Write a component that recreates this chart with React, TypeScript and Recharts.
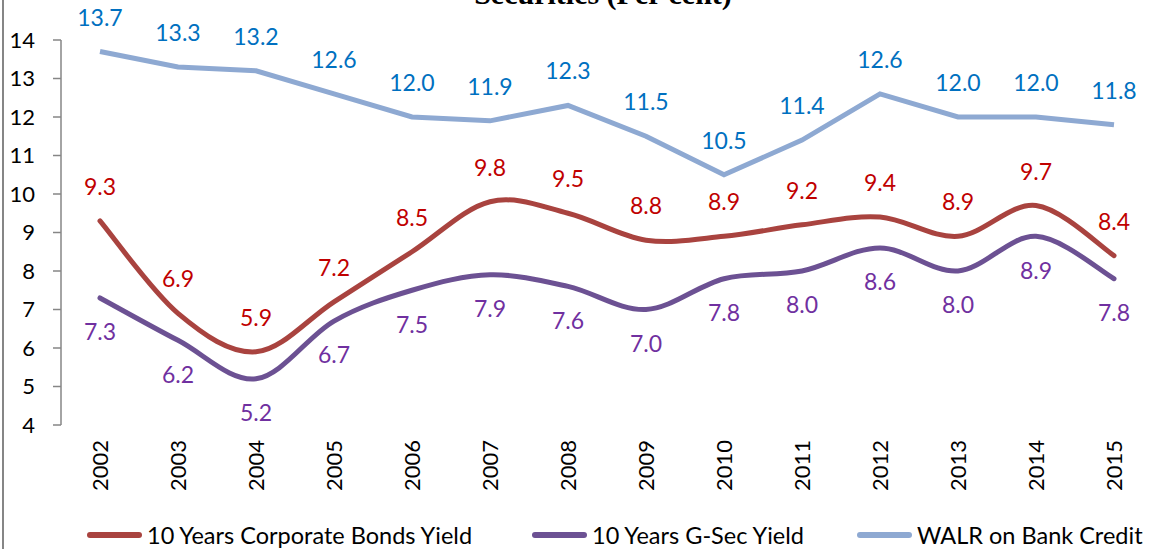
import { LineChart, Line, XAxis, YAxis, Legend, LabelList } from "recharts";

const years = ["2002", "2003", "2004", "2005", "2006", "2007", "2008", "2009", "2010", "2011", "2012", "2013", "2014", "2015"];
const corporateBondsYield = [9.3, 6.9, 5.9, 7.2, 8.5, 9.8, 9.5, 8.8, 8.9, 9.2, 9.4, 8.9, 9.7, 8.4];
const gSecYield = [7.3, 6.2, 5.2, 6.7, 7.5, 7.9, 7.6, 7.0, 7.8, 8.0, 8.6, 8.0, 8.9, 7.8];
const walrBankCredit = [13.7, 13.3, 13.2, 12.6, 12.0, 11.9, 12.3, 11.5, 10.5, 11.4, 12.6, 12.0, 12.0, 11.8];
const yTicks = [4, 5, 6, 7, 8, 9, 10, 11, 12, 13, 14];
const boundaryTicks = [0, 1, 2, 3, 4, 5, 6, 7, 8, 9, 10, 11, 12, 13, 14];

const data = years.map((year, i) => ({
	year,
	corp: corporateBondsYield[i],
	gsec: gSecYield[i],
	walr: walrBankCredit[i],
}));

const FONT = "Lato, 'Open Sans', sans-serif";
const AXIS = "#868686";

// Excel-like smoothed line (Catmull-Rom converted to cubic beziers)
function excelSmooth(context: any) {
	let pts: number[][] = [];
	return {
		areaStart() {},
		areaEnd() {},
		lineStart() {
			pts = [];
		},
		point(x: number, y: number) {
			pts.push([+x, +y]);
		},
		lineEnd() {
			if (!pts.length) return;
			context.moveTo(pts[0][0], pts[0][1]);
			for (let i = 0; i < pts.length - 1; i++) {
				const p0 = pts[i - 1] || pts[i];
				const p1 = pts[i];
				const p2 = pts[i + 1];
				const p3 = pts[i + 2] || pts[i + 1];
				context.bezierCurveTo(
					p1[0] + (p2[0] - p0[0]) / 6,
					p1[1] + (p2[1] - p0[1]) / 6,
					p2[0] - (p3[0] - p1[0]) / 6,
					p2[1] - (p3[1] - p1[1]) / 6,
					p2[0],
					p2[1],
				);
			}
		},
	};
}

const YearTick = ({ x, y, payload }: any) => (
	<g transform={`translate(${x},${y})`}>
		<text
			transform="rotate(-90)"
			textAnchor="end"
			dy="0.36em"
			fontSize={22}
			fontFamily={FONT}
			fill="#000"
		>
			{payload.value}
		</text>
	</g>
);

const legendStarts = [87, 532, 857];

const renderLegend = ({ payload }: any) => (
	<div style={{ position: "relative", height: 22, fontFamily: FONT, fontSize: 23.5, lineHeight: "22px", color: "#000" }}>
		{(payload || []).map((entry: any, i: number) => (
			<div
				key={entry.value}
				style={{
					position: "absolute",
					left: legendStarts[i],
					top: 0,
					height: 22,
					display: "flex",
					alignItems: "center",
					whiteSpace: "nowrap",
				}}
			>
				<span
					style={{
						display: "inline-block",
						width: 55,
						height: 6,
						borderRadius: 3,
						background: entry.color,
						marginRight: 5,
					}}
				/>
				<span>{entry.value}</span>
			</div>
		))}
	</div>
);

const fmt = (v: any) => Number(v).toFixed(1);

export default function App() {
	return (
		<div style={{ position: "absolute", left: 0, top: 0, width: 1157, height: 549, overflow: "hidden", background: "#fff" }}>
			<div
				style={{
					position: "absolute",
					left: 2,
					top: 0,
					width: 0,
					height: 549,
					borderLeft: `2px solid ${AXIS}`,
				}}
			/>
			<div
				style={{
					position: "absolute",
					left: 0,
					width: 1206,
					top: -21,
					textAlign: "center",
					fontFamily: "'Liberation Serif', serif",
					fontWeight: "bold",
					fontSize: 30,
					lineHeight: "30px",
				}}
			>
				Securities (Per cent)
			</div>
			<LineChart
				width={1157}
				height={549}
				data={data}
				margin={{ top: 40, right: 4, left: 0, bottom: 3 }}
			>
				<XAxis
					xAxisId="bounds"
					type="number"
					domain={[0, 14]}
					ticks={boundaryTicks}
					allowDataOverflow
					height={0}
					tickFormatter={() => ""}
					tickSize={8}
					stroke={AXIS}
					strokeWidth={1.5}
				/>
				<XAxis
					dataKey="year"
					height={99}
					padding={{ left: 39, right: 39 }}
					axisLine={false}
					tickLine={false}
					tickSize={0}
					tickMargin={15}
					interval={0}
					tick={<YearTick />}
				/>
				<YAxis
					width={61}
					domain={[4, 14]}
					ticks={yTicks}
					interval={0}
					stroke={AXIS}
					strokeWidth={1.5}
					tickSize={8}
					tickMargin={18}
					tick={{ fill: "#000", fontSize: 22, fontFamily: FONT }}
				/>
				<Legend verticalAlign="bottom" content={renderLegend} />
				<Line
					dataKey="corp"
					name="10 Years Corporate Bonds Yield"
					type={excelSmooth as any}
					stroke="#A9433F"
					strokeWidth={5}
					strokeLinecap="round"
					dot={false}
					activeDot={false}
					isAnimationActive={false}
				>
					<LabelList
						dataKey="corp"
						position="top"
						offset={26}
						formatter={fmt}
						fill="#C00000"
						fontSize={23}
						fontFamily={FONT}
					/>
				</Line>
				<Line
					dataKey="gsec"
					name="10 Years G-Sec Yield"
					type={excelSmooth as any}
					stroke="#6C5193"
					strokeWidth={5}
					strokeLinecap="round"
					dot={false}
					activeDot={false}
					isAnimationActive={false}
				>
					<LabelList
						dataKey="gsec"
						position="bottom"
						offset={26}
						formatter={fmt}
						fill="#7030A0"
						fontSize={23}
						fontFamily={FONT}
					/>
				</Line>
				<Line
					dataKey="walr"
					name="WALR on Bank Credit"
					type="linear"
					stroke="#8EA9D2"
					strokeWidth={5}
					dot={false}
					activeDot={false}
					isAnimationActive={false}
				>
					<LabelList
						dataKey="walr"
						position="top"
						offset={26}
						formatter={fmt}
						fill="#0070C0"
						fontSize={23}
						fontFamily={FONT}
					/>
				</Line>
			</LineChart>
		</div>
	);
}
